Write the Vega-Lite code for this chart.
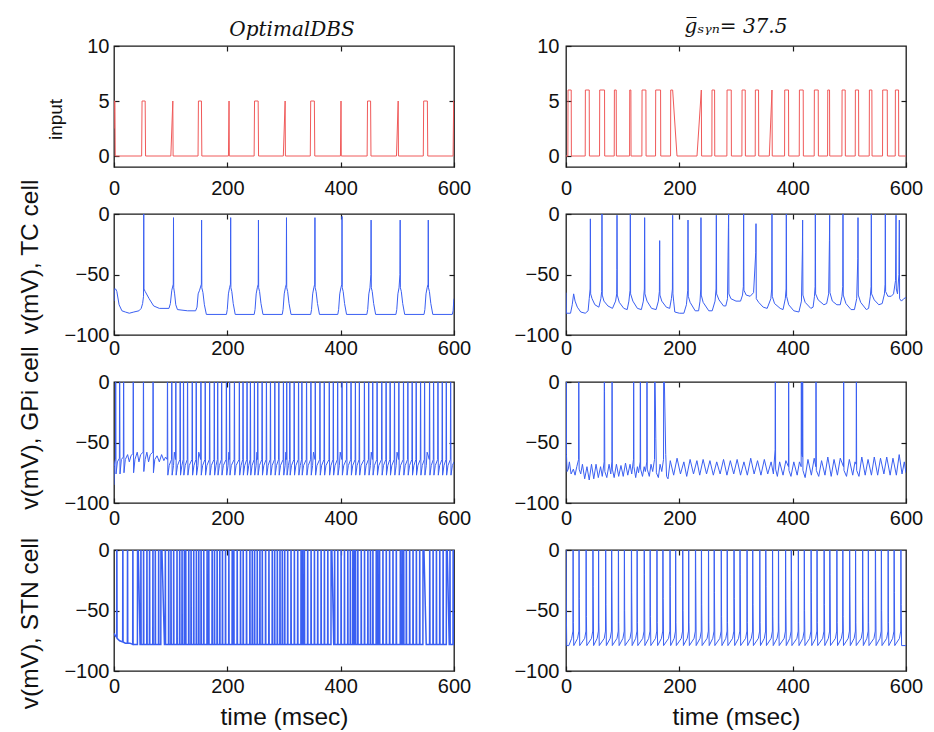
{
"$schema":"https://vega.github.io/schema/vega-lite/v6.json",
"background":"white",
"padding":{"left":16,"top":16,"right":5,"bottom":5},
"bounds":"flush",
"columns":2,
"spacing":{"row":47,"column":112},
"config":{
"view":{"stroke":"#1a1a1a","strokeWidth":1.3},
"axis":{"domain":false,"grid":false,"labelFont":"Liberation Sans","labelFontSize":20,"labelColor":"#111","labelFlush":false,"labelOverlap":false,"tickColor":"#1a1a1a","tickSize":-5,"tickWidth":1.2,"titleFont":"Liberation Sans","titleFontWeight":"normal","titleColor":"#111","titleFontSize":24.5},
"axisY":{"labelPadding":10},
"title":{"font":"DejaVu Serif","fontStyle":"italic","fontWeight":"normal","fontSize":20,"color":"#111","anchor":"middle","baseline":"alphabetic"}
},
"datasets":{
"inL":[{"t":0,"v":2.5},{"t":0.4,"v":5},{"t":1.6,"v":5},{"t":2.2,"v":0},{"t":48.8,"v":0},{"t":49.5,"v":5},{"t":55,"v":5},{"t":55.7,"v":0},{"t":100.3,"v":0},{"t":103.8,"v":5},{"t":104.3,"v":0},{"t":148.3,"v":0},{"t":149,"v":5},{"t":154.3,"v":5},{"t":155,"v":0},{"t":202,"v":0},{"t":203,"v":5},{"t":203.5,"v":0},{"t":247.3,"v":0},{"t":248,"v":5},{"t":254.4,"v":5},{"t":255.1,"v":0},{"t":298.8,"v":0},{"t":302,"v":5},{"t":302.5,"v":0},{"t":346.4,"v":0},{"t":347.1,"v":5},{"t":353.6,"v":5},{"t":354.3,"v":0},{"t":399.6,"v":0},{"t":400.6,"v":5},{"t":401.1,"v":0},{"t":446.7,"v":0},{"t":447.4,"v":5},{"t":452.8,"v":5},{"t":453.5,"v":0},{"t":498.5,"v":0},{"t":501.5,"v":5},{"t":502,"v":0},{"t":545.8,"v":0},{"t":546.5,"v":5},{"t":553,"v":5},{"t":553.7,"v":0},{"t":598.4,"v":0},{"t":599.4,"v":5},{"t":600,"v":5}],
"inR":[{"t":0,"v":0},{"t":3.3,"v":0},{"t":3.6,"v":6},{"t":9.2,"v":6},{"t":9.5,"v":0},{"t":33.9,"v":0},{"t":34.2,"v":6},{"t":41,"v":6},{"t":41.3,"v":0},{"t":59.2,"v":0},{"t":59.5,"v":6},{"t":68,"v":6},{"t":68.3,"v":0},{"t":85.1,"v":0},{"t":85.4,"v":6},{"t":88.6,"v":6},{"t":88.9,"v":0},{"t":112.2,"v":0},{"t":112.5,"v":6},{"t":114.5,"v":6},{"t":114.8,"v":0},{"t":133.9,"v":0},{"t":134.2,"v":6},{"t":141,"v":6},{"t":141.3,"v":0},{"t":158,"v":0},{"t":158.3,"v":6},{"t":166.9,"v":6},{"t":167.2,"v":0},{"t":184.5,"v":0},{"t":184.8,"v":6},{"t":188.2,"v":6},{"t":195.9,"v":0},{"t":231.2,"v":0},{"t":238.8,"v":6},{"t":239.3,"v":0},{"t":257.4,"v":0},{"t":257.7,"v":6},{"t":262.2,"v":6},{"t":262.5,"v":0},{"t":283.9,"v":0},{"t":284.2,"v":6},{"t":291.6,"v":6},{"t":291.9,"v":0},{"t":310.4,"v":0},{"t":310.7,"v":6},{"t":316.3,"v":6},{"t":316.6,"v":0},{"t":333.9,"v":0},{"t":334.2,"v":6},{"t":339.8,"v":6},{"t":340.1,"v":0},{"t":358.8,"v":0},{"t":363.5,"v":6},{"t":364,"v":0},{"t":385.7,"v":0},{"t":386,"v":6},{"t":392.7,"v":6},{"t":393,"v":0},{"t":411.6,"v":0},{"t":411.9,"v":6},{"t":418.6,"v":6},{"t":418.9,"v":0},{"t":438,"v":0},{"t":438.3,"v":6},{"t":445.1,"v":6},{"t":445.4,"v":0},{"t":461.6,"v":0},{"t":461.9,"v":6},{"t":465.1,"v":6},{"t":465.4,"v":0},{"t":486.9,"v":0},{"t":487.2,"v":6},{"t":492.7,"v":6},{"t":493,"v":0},{"t":510.4,"v":0},{"t":510.7,"v":6},{"t":516.3,"v":6},{"t":516.6,"v":0},{"t":535.1,"v":0},{"t":535.4,"v":6},{"t":539.8,"v":6},{"t":540.1,"v":0},{"t":558.6,"v":0},{"t":558.9,"v":6},{"t":566.9,"v":6},{"t":567.2,"v":0},{"t":581,"v":0},{"t":581.3,"v":6},{"t":586.9,"v":6},{"t":587.2,"v":0},{"t":600,"v":0}],
"tcL":[{"t":0,"v":-72},{"t":0.4,"v":-62},{"t":3,"v":-62},{"t":5,"v":-64},{"t":9,"v":-75},{"t":14,"v":-80},{"t":20,"v":-81},{"t":27,"v":-82},{"t":35,"v":-81},{"t":44,"v":-80},{"t":48,"v":-78},{"t":50.5,"v":-74},{"t":52.1,"v":-68},{"t":52.5,"v":0},{"t":52.9,"v":-62},{"t":55,"v":-64},{"t":62,"v":-70},{"t":70,"v":-76},{"t":80,"v":-78},{"t":97,"v":-78},{"t":99.5,"v":-74},{"t":102,"v":-63},{"t":104.6,"v":-58},{"t":105,"v":-3},{"t":105.4,"v":-61},{"t":107,"v":-66},{"t":109,"v":-75},{"t":112,"v":-79},{"t":130,"v":-80},{"t":144,"v":-80},{"t":146.5,"v":-77},{"t":148.5,"v":-66},{"t":151,"v":-63},{"t":154.2,"v":-58},{"t":154.6,"v":-5},{"t":155,"v":-61},{"t":157,"v":-65},{"t":159.5,"v":-75},{"t":163,"v":-83},
{"t":198.4,"v":-83},{"t":199.9,"v":-79},{"t":201.9,"v":-66},{"t":203.9,"v":-61},{"t":205.5,"v":-58},{"t":205.9,"v":-3},{"t":206.3,"v":-61},{"t":207.9,"v":-64},{"t":210.4,"v":-74},{"t":213.9,"v":-83},
{"t":247.4,"v":-83},{"t":248.9,"v":-79},{"t":250.9,"v":-66},{"t":252.9,"v":-61},{"t":254.5,"v":-58},{"t":254.9,"v":-5},{"t":255.3,"v":-61},{"t":256.9,"v":-64},{"t":259.4,"v":-74},{"t":262.9,"v":-83},
{"t":296.9,"v":-83},{"t":298.4,"v":-79},{"t":300.4,"v":-66},{"t":302.4,"v":-61},{"t":304,"v":-58},{"t":304.4,"v":-3},{"t":304.8,"v":-61},{"t":306.4,"v":-64},{"t":308.9,"v":-74},{"t":312.4,"v":-83},
{"t":347.1,"v":-83},{"t":348.6,"v":-79},{"t":350.6,"v":-66},{"t":352.6,"v":-61},{"t":354.2,"v":-58},{"t":354.6,"v":-3},{"t":355,"v":-61},{"t":356.6,"v":-64},{"t":359.1,"v":-74},{"t":362.6,"v":-83},
{"t":394.9,"v":-83},{"t":396.4,"v":-79},{"t":398.4,"v":-66},{"t":400.4,"v":-61},{"t":402,"v":-58},{"t":402.4,"v":-2},{"t":402.8,"v":-61},{"t":404.4,"v":-64},{"t":406.9,"v":-74},{"t":410.4,"v":-83},
{"t":446.2,"v":-83},{"t":447.7,"v":-79},{"t":449.7,"v":-66},{"t":451.7,"v":-61},{"t":453.3,"v":-50},{"t":453.7,"v":-5},{"t":454.1,"v":-61},{"t":455.7,"v":-64},{"t":458.2,"v":-74},{"t":461.7,"v":-83},
{"t":497.5,"v":-83},{"t":499,"v":-79},{"t":501,"v":-66},{"t":503,"v":-61},{"t":504.6,"v":-50},{"t":505,"v":-5},{"t":505.4,"v":-61},{"t":507,"v":-64},{"t":509.5,"v":-74},{"t":513,"v":-83},
{"t":547.1,"v":-83},{"t":548.6,"v":-79},{"t":550.6,"v":-66},{"t":552.6,"v":-61},{"t":554.2,"v":-58},{"t":554.6,"v":-5},{"t":555,"v":-61},{"t":556.6,"v":-64},{"t":559.1,"v":-74},{"t":562.6,"v":-83},
{"t":597,"v":-83},{"t":598.5,"v":-80},{"t":599.5,"v":-72},{"t":600,"v":-70}],
"tcR":[{"t":0,"v":-65},{"t":0.6,"v":-82},{"t":8,"v":-82},{"t":11,"v":-75},{"t":13.5,"v":-66},{"t":16,"v":-72},{"t":20,"v":-77},{"t":26,"v":-81},{"t":34,"v":-82},{"t":39,"v":-80},{"t":41,"v":-70},{"t":42.5,"v":-62},{"t":42.8,"v":-39},{"t":43,"v":-4},{"t":43.5,"v":-66},{"t":46,"v":-70},{"t":51,"v":-75},{"t":58,"v":-77},{"t":61.5,"v":-70},{"t":63,"v":-64},{"t":63.3,"v":-28},{"t":63.5,"v":0},{"t":64,"v":-67},{"t":67,"v":-72},{"t":74,"v":-76},{"t":82,"v":-78},{"t":87.5,"v":-72},{"t":89.5,"v":-66},{"t":89.8,"v":-46},{"t":90,"v":-1},{"t":90.5,"v":-67},{"t":94,"v":-73},{"t":102,"v":-78},{"t":108,"v":-79},{"t":111,"v":-72},{"t":113,"v":-63},{"t":113.5,"v":0},{"t":114,"v":-66},{"t":118,"v":-72},{"t":126,"v":-78},{"t":133,"v":-79},{"t":136.5,"v":-72},{"t":138.3,"v":-62},{"t":138.8,"v":-3},{"t":139.3,"v":-66},{"t":143,"v":-72},{"t":151,"v":-78},{"t":159,"v":-79},{"t":163,"v":-72},{"t":164.8,"v":-64},{"t":165.3,"v":-22},{"t":165.8,"v":-67},{"t":169,"v":-72},{"t":177,"v":-77},{"t":183,"v":-78},{"t":186,"v":-70},{"t":187.8,"v":-62},{"t":188.2,"v":-1},{"t":188.7,"v":-66},{"t":190,"v":-72},{"t":192,"v":-81},{"t":200,"v":-82},{"t":208,"v":-82},{"t":212.5,"v":-75},{"t":214.8,"v":-63},{"t":215.3,"v":-5},{"t":215.8,"v":-68},{"t":219,"v":-73},{"t":228,"v":-80},{"t":234,"v":-80},{"t":236.5,"v":-72},{"t":237.8,"v":-62},{"t":238.2,"v":-3},{"t":238.7,"v":-67},{"t":242,"v":-73},{"t":252,"v":-80},{"t":258,"v":-80},{"t":263,"v":-72},{"t":264.8,"v":-62},{"t":265.3,"v":-1},{"t":265.8,"v":-66},{"t":270,"v":-71},{"t":278,"v":-76},{"t":282,"v":-76},{"t":285,"v":-70},{"t":286.6,"v":-11},{"t":287,"v":0},{"t":287.5,"v":-66},{"t":291,"v":-70},{"t":300,"v":-72},{"t":308,"v":-72},{"t":311.5,"v":-67},{"t":313,"v":-60},{"t":313.5,"v":0},{"t":314,"v":-63},{"t":318,"v":-67},{"t":325,"v":-68},{"t":331,"v":-65},{"t":334.8,"v":-32},{"t":335.3,"v":-8},{"t":335.8,"v":-70},{"t":340,"v":-73},{"t":348,"v":-77},{"t":355,"v":-78},{"t":361.5,"v":-70},{"t":363,"v":-62},{"t":363.5,"v":0},{"t":364,"v":-68},{"t":368,"v":-74},{"t":378,"v":-78},{"t":383,"v":-79},{"t":387,"v":-70},{"t":388.4,"v":-62},{"t":388.8,"v":0},{"t":389.3,"v":-68},{"t":393,"v":-75},{"t":402,"v":-80},{"t":411,"v":-81},{"t":415.5,"v":-72},{"t":417.2,"v":-29},{"t":417.6,"v":-5},{"t":418.1,"v":-67},{"t":422,"v":-73},{"t":432,"v":-78},{"t":436,"v":-77},{"t":438.5,"v":-68},{"t":439.6,"v":-60},{"t":440,"v":0},{"t":440.5,"v":-66},{"t":445,"v":-71},{"t":455,"v":-75},{"t":460,"v":-74},{"t":463.5,"v":-66},{"t":464.9,"v":-22},{"t":465.3,"v":-1},{"t":465.8,"v":-65},{"t":470,"v":-72},{"t":478,"v":-75},{"t":484,"v":-75},{"t":487,"v":-68},{"t":488.4,"v":-60},{"t":488.8,"v":0},{"t":489.3,"v":-67},{"t":494,"v":-74},{"t":503,"v":-79},{"t":509,"v":-79},{"t":513,"v":-70},{"t":514.9,"v":-37},{"t":515.3,"v":-3},{"t":515.8,"v":-67},{"t":520,"v":-73},{"t":530,"v":-79},{"t":534,"v":-78},{"t":537,"v":-68},{"t":538.4,"v":-60},{"t":538.8,"v":0},{"t":539.3,"v":-66},{"t":544,"v":-71},{"t":552,"v":-75},{"t":558,"v":-74},{"t":562,"v":-66},{"t":563.1,"v":-58},{"t":563.5,"v":0},{"t":564,"v":-64},{"t":568,"v":-68},{"t":574,"v":-68},{"t":578,"v":-66},{"t":581.5,"v":-55},{"t":582.4,"v":-1},{"t":582.9,"v":-62},{"t":585,"v":-66},{"t":587.5,"v":-50},{"t":588.2,"v":-5},{"t":588.7,"v":-70},{"t":592,"v":-72},{"t":596,"v":-70},{"t":600,"v":-69}],
"gpiL":[{"t":0,"v":-85},{"t":0.5,"v":-70},{"t":1.5,"v":-66},{"t":2.6,"v":-64},{"t":3,"v":30},{"t":3.6,"v":-76},{"t":6,"v":-66},{"t":9.5,"v":-63},{"t":10,"v":30},{"t":10.6,"v":-76},{"t":13,"v":-64},{"t":16.5,"v":-62},{"t":17,"v":30},{"t":17.6,"v":-75},{"t":20,"v":-64},{"t":24,"v":-60},{"t":27,"v":-66},{"t":30,"v":-61},{"t":33.5,"v":-59},{"t":34,"v":30},{"t":34.6,"v":-75},{"t":37,"v":-64},{"t":41,"v":-58},{"t":44,"v":-66},{"t":47,"v":-60},{"t":51.5,"v":-58},{"t":52,"v":30},{"t":52.6,"v":-74},{"t":55,"v":-64},{"t":58,"v":-58},{"t":61,"v":-66},{"t":64,"v":-60},{"t":68.5,"v":-58},{"t":69,"v":30},{"t":69.6,"v":-75},{"t":72,"v":-64},{"t":76,"v":-61},{"t":80,"v":-66},{"t":84,"v":-60},{"t":88,"v":-65},{"t":91,"v":-62},
{"t":93.9,"v":-64},{"t":94.4,"v":30},{"t":95,"v":-77},{"t":97.4,"v":-69},
{"t":101.5,"v":-64},{"t":102,"v":30},{"t":102.6,"v":-77},{"t":105,"v":-69},{"t":106.5,"v":-58},
{"t":108.6,"v":-64},{"t":109.1,"v":30},{"t":109.7,"v":-77},{"t":112.1,"v":-69},
{"t":116.3,"v":-64},{"t":116.8,"v":30},{"t":117.4,"v":-77},{"t":119.8,"v":-69},
{"t":122.2,"v":-64},{"t":122.7,"v":30},{"t":123.3,"v":-77},{"t":125.7,"v":-69},
{"t":129.3,"v":-64},{"t":129.8,"v":30},{"t":130.4,"v":-77},{"t":132.8,"v":-69},
{"t":137.6,"v":-64},{"t":138.1,"v":30},{"t":138.7,"v":-77},{"t":141.1,"v":-69},
{"t":144.6,"v":-64},{"t":145.1,"v":30},{"t":145.7,"v":-77},{"t":148.1,"v":-69},{"t":149.6,"v":-58},
{"t":152.9,"v":-64},{"t":153.4,"v":30},{"t":154,"v":-77},{"t":156.4,"v":-69},
{"t":160.5,"v":-64},{"t":161,"v":30},{"t":161.6,"v":-77},{"t":164,"v":-69},
{"t":168.3,"v":-64},{"t":168.8,"v":30},{"t":169.4,"v":-77},{"t":171.8,"v":-69},
{"t":176.5,"v":-64},{"t":177,"v":30},{"t":177.6,"v":-77},{"t":180,"v":-69},
{"t":182.5,"v":-64},{"t":183,"v":30},{"t":183.6,"v":-77},{"t":186,"v":-69},
{"t":189.5,"v":-64},{"t":190,"v":30},{"t":190.6,"v":-77},{"t":193,"v":-69},
{"t":197.8,"v":-64},{"t":198.3,"v":30},{"t":198.9,"v":-77},{"t":201.3,"v":-69},{"t":202.8,"v":-58},
{"t":203.6,"v":-64},{"t":204.1,"v":30},{"t":204.7,"v":-77},{"t":207.1,"v":-69},
{"t":212,"v":-64},{"t":212.5,"v":30},{"t":213.1,"v":-77},{"t":215.5,"v":-69},
{"t":220.7,"v":-64},{"t":221.2,"v":30},{"t":221.8,"v":-77},{"t":224.2,"v":-69},
{"t":227.2,"v":-64},{"t":227.7,"v":30},{"t":228.3,"v":-77},{"t":230.7,"v":-69},
{"t":234.3,"v":-64},{"t":234.8,"v":30},{"t":235.4,"v":-77},{"t":237.8,"v":-69},
{"t":240.2,"v":-64},{"t":240.7,"v":30},{"t":241.3,"v":-77},{"t":243.7,"v":-69},
{"t":247.3,"v":-64},{"t":247.8,"v":30},{"t":248.4,"v":-77},{"t":250.8,"v":-69},{"t":252.3,"v":-58},
{"t":253.2,"v":-64},{"t":253.7,"v":30},{"t":254.3,"v":-77},{"t":256.7,"v":-69},
{"t":260.9,"v":-64},{"t":261.4,"v":30},{"t":262,"v":-77},{"t":264.4,"v":-69},
{"t":268.5,"v":-64},{"t":269,"v":30},{"t":269.6,"v":-77},{"t":272,"v":-69},
{"t":275.6,"v":-64},{"t":276.1,"v":30},{"t":276.7,"v":-77},{"t":279.1,"v":-69},
{"t":283.3,"v":-64},{"t":283.8,"v":30},{"t":284.4,"v":-77},{"t":286.8,"v":-69},
{"t":290.4,"v":-64},{"t":290.9,"v":30},{"t":291.5,"v":-77},{"t":293.9,"v":-69},
{"t":298.5,"v":-64},{"t":299,"v":30},{"t":299.6,"v":-77},{"t":302,"v":-69},{"t":303.3,"v":-58},
{"t":304.3,"v":-64},{"t":304.8,"v":30},{"t":305.4,"v":-77},{"t":307.8,"v":-69},
{"t":309.8,"v":-64},{"t":310.3,"v":30},{"t":310.9,"v":-77},{"t":313.3,"v":-69},
{"t":317.5,"v":-64},{"t":318,"v":30},{"t":318.6,"v":-77},{"t":321,"v":-69},
{"t":325.2,"v":-64},{"t":325.7,"v":30},{"t":326.3,"v":-77},{"t":328.7,"v":-69},
{"t":331.1,"v":-64},{"t":331.6,"v":30},{"t":332.2,"v":-77},{"t":334.6,"v":-69},
{"t":339.3,"v":-64},{"t":339.8,"v":30},{"t":340.4,"v":-77},{"t":342.8,"v":-69},
{"t":347,"v":-64},{"t":347.5,"v":30},{"t":348.1,"v":-77},{"t":350.5,"v":-69},{"t":352,"v":-58},
{"t":354.7,"v":-64},{"t":355.2,"v":30},{"t":355.8,"v":-77},{"t":358.2,"v":-69},
{"t":362.9,"v":-64},{"t":363.4,"v":30},{"t":364,"v":-77},{"t":366.4,"v":-69},
{"t":370.6,"v":-64},{"t":371.1,"v":30},{"t":371.7,"v":-77},{"t":374.1,"v":-69},
{"t":379.4,"v":-64},{"t":379.9,"v":30},{"t":380.5,"v":-77},{"t":382.9,"v":-69},
{"t":386.5,"v":-64},{"t":387,"v":30},{"t":387.6,"v":-77},{"t":390,"v":-69},
{"t":394.2,"v":-64},{"t":394.7,"v":30},{"t":395.3,"v":-77},{"t":397.7,"v":-69},{"t":399.2,"v":-58},
{"t":401.9,"v":-64},{"t":402.4,"v":30},{"t":403,"v":-77},{"t":405.4,"v":-69},
{"t":410.1,"v":-64},{"t":410.6,"v":30},{"t":411.2,"v":-77},{"t":413.6,"v":-69},
{"t":417.8,"v":-64},{"t":418.3,"v":30},{"t":418.9,"v":-77},{"t":421.3,"v":-69},
{"t":425.5,"v":-64},{"t":426,"v":30},{"t":426.6,"v":-77},{"t":429,"v":-69},
{"t":432.5,"v":-64},{"t":433,"v":30},{"t":433.6,"v":-77},{"t":436,"v":-69},
{"t":441.4,"v":-64},{"t":441.9,"v":30},{"t":442.5,"v":-77},{"t":444.9,"v":-69},
{"t":449,"v":-64},{"t":449.5,"v":30},{"t":450.1,"v":-77},{"t":452.5,"v":-69},{"t":454,"v":-58},
{"t":456.1,"v":-64},{"t":456.6,"v":30},{"t":457.2,"v":-77},{"t":459.6,"v":-69},
{"t":463.8,"v":-64},{"t":464.3,"v":30},{"t":464.9,"v":-77},{"t":467.3,"v":-69},
{"t":472.1,"v":-64},{"t":472.6,"v":30},{"t":473.2,"v":-77},{"t":475.6,"v":-69},
{"t":479.7,"v":-64},{"t":480.2,"v":30},{"t":480.8,"v":-77},{"t":483.2,"v":-69},
{"t":486.8,"v":-64},{"t":487.3,"v":30},{"t":487.9,"v":-77},{"t":490.3,"v":-69},
{"t":494.5,"v":-64},{"t":495,"v":30},{"t":495.6,"v":-77},{"t":498,"v":-69},{"t":499.5,"v":-58},
{"t":502.2,"v":-64},{"t":502.7,"v":30},{"t":503.3,"v":-77},{"t":505.7,"v":-69},
{"t":510.4,"v":-64},{"t":510.9,"v":30},{"t":511.5,"v":-77},{"t":513.9,"v":-69},
{"t":518.1,"v":-64},{"t":518.6,"v":30},{"t":519.2,"v":-77},{"t":521.6,"v":-69},
{"t":525.7,"v":-64},{"t":526.2,"v":30},{"t":526.8,"v":-77},{"t":529.2,"v":-69},
{"t":532.8,"v":-64},{"t":533.3,"v":30},{"t":533.9,"v":-77},{"t":536.3,"v":-69},
{"t":540.5,"v":-64},{"t":541,"v":30},{"t":541.6,"v":-77},{"t":544,"v":-69},
{"t":547.6,"v":-64},{"t":548.1,"v":30},{"t":548.7,"v":-77},{"t":551.1,"v":-69},{"t":552.6,"v":-58},
{"t":556.4,"v":-64},{"t":556.9,"v":30},{"t":557.5,"v":-77},{"t":559.9,"v":-69},
{"t":563.5,"v":-64},{"t":564,"v":30},{"t":564.6,"v":-77},{"t":567,"v":-69},
{"t":571.2,"v":-64},{"t":571.7,"v":30},{"t":572.3,"v":-77},{"t":574.7,"v":-69},
{"t":578.8,"v":-64},{"t":579.3,"v":30},{"t":579.9,"v":-77},{"t":582.3,"v":-69},
{"t":585.9,"v":-64},{"t":586.4,"v":30},{"t":587,"v":-77},{"t":589.4,"v":-69},
{"t":593.6,"v":-64},{"t":594.1,"v":30},{"t":594.7,"v":-77},{"t":597.1,"v":-69},{"t":600,"v":-66}],
"gpiR":[{"t":0,"v":-53},{"t":0.3,"v":30},{"t":0.8,"v":-60},{"t":2,"v":-74},{"t":4,"v":-72},{"t":6,"v":-66},{"t":9,"v":-76},{"t":13,"v":-72},{"t":16,"v":-77},{"t":19,"v":-70},{"t":22.2,"v":-64},{"t":22.5,"v":30},{"t":23.2,"v":-72},{"t":26,"v":-76},{"t":29,"v":-68},{"t":33,"v":-80},{"t":37,"v":-70},{"t":41,"v":-81},{"t":45,"v":-68},{"t":49,"v":-80},{"t":53,"v":-68},{"t":57,"v":-79},{"t":61,"v":-70},{"t":64,"v":-78},{"t":67.3,"v":-66},{"t":67.6,"v":30},{"t":68,"v":-8},{"t":68.5,"v":-74},{"t":72,"v":-79},{"t":76,"v":-68},{"t":79,"v":-76},{"t":81,"v":-66},{"t":81.3,"v":30},{"t":81.8,"v":-72},{"t":85,"v":-79},{"t":89,"v":-68},{"t":93,"v":-78},{"t":97,"v":-69},{"t":101,"v":-78},{"t":105,"v":-67},{"t":109,"v":-77},{"t":113,"v":-68},{"t":116,"v":-76},{"t":119.1,"v":-64},{"t":119.4,"v":30},{"t":119.9,"v":-70},{"t":123,"v":-79},{"t":126,"v":-70},{"t":128,"v":-75},{"t":130.9,"v":-66},{"t":131.2,"v":30},{"t":131.7,"v":-72},{"t":135,"v":-78},{"t":138,"v":-70},{"t":140,"v":-74},{"t":142.6,"v":-66},{"t":142.9,"v":30},{"t":143.4,"v":-72},{"t":147,"v":-78},{"t":150,"v":-68},{"t":153,"v":-74},{"t":156.2,"v":-64},{"t":156.5,"v":30},{"t":158.5,"v":-47},{"t":159.5,"v":-75},{"t":163,"v":-79},{"t":166,"v":-68},{"t":169,"v":-74},{"t":172.1,"v":-64},{"t":172.4,"v":30},{"t":176,"v":-60},{"t":177.5,"v":-78},{"t":180,"v":-80},{"t":184,"v":-65},{"t":190,"v":-77},{"t":196,"v":-63},{"t":202,"v":-76},{"t":208,"v":-66},{"t":213,"v":-78},{"t":219,"v":-64},{"t":225,"v":-76},{"t":231,"v":-65},{"t":236,"v":-77},{"t":242,"v":-64},{"t":248,"v":-76},{"t":254,"v":-65},{"t":260,"v":-77},{"t":266,"v":-66},{"t":272,"v":-76},{"t":278,"v":-64},{"t":284,"v":-77},{"t":290,"v":-65},{"t":296,"v":-76},{"t":302,"v":-64},{"t":308,"v":-77},{"t":314,"v":-66},{"t":320,"v":-77},{"t":326,"v":-63},{"t":332,"v":-76},{"t":338,"v":-65},{"t":344,"v":-77},{"t":350,"v":-64},{"t":356,"v":-76},{"t":362,"v":-66},{"t":366,"v":-76},{"t":369,"v":-56},{"t":369.4,"v":30},{"t":369.9,"v":-72},{"t":373,"v":-78},{"t":377,"v":-66},{"t":383,"v":-77},{"t":388,"v":-65},{"t":392.6,"v":-70},{"t":392.9,"v":30},{"t":393.4,"v":-73},{"t":397,"v":-78},{"t":402,"v":-66},{"t":408,"v":-77},{"t":412,"v":-66},{"t":415,"v":-70},{"t":415.3,"v":30},{"t":415.8,"v":-60},{"t":417.3,"v":-62},{"t":417.6,"v":30},{"t":418.1,"v":-73},{"t":422,"v":-79},{"t":427,"v":-64},{"t":433,"v":-77},{"t":438,"v":-63},{"t":440.9,"v":-70},{"t":441.2,"v":30},{"t":441.7,"v":-73},{"t":446,"v":-78},{"t":451,"v":-65},{"t":457,"v":-77},{"t":462,"v":-62},{"t":468,"v":-78},{"t":473,"v":-64},{"t":479,"v":-77},{"t":484,"v":-63},{"t":489.7,"v":-70},{"t":490,"v":30},{"t":490.5,"v":-73},{"t":495,"v":-78},{"t":500,"v":-64},{"t":506,"v":-77},{"t":510,"v":-66},{"t":512.1,"v":-68},{"t":512.4,"v":30},{"t":512.9,"v":-73},{"t":517,"v":-78},{"t":522,"v":-62},{"t":528,"v":-77},{"t":533,"v":-64},{"t":539,"v":-77},{"t":544,"v":-62},{"t":550,"v":-77},{"t":555,"v":-63},{"t":561,"v":-76},{"t":566,"v":-62},{"t":572,"v":-77},{"t":577,"v":-63},{"t":583,"v":-77},{"t":588,"v":-60},{"t":593,"v":-76},{"t":597,"v":-66},{"t":600,"v":-75}],
"stnL":[{"t":0,"v":-69},{"t":2.5,"v":-71},{"t":4.7,"v":-72},{"t":5,"v":30},{"t":5.4,"v":-73},{"t":10,"v":-75},{"t":15.3,"v":-76},{"t":15.6,"v":30},{"t":16,"v":-76},{"t":20,"v":-77},{"t":23.6,"v":-77},{"t":23.9,"v":30},{"t":24.3,"v":-77},{"t":28,"v":-77},{"t":33,"v":-78},{"t":33.3,"v":30},{"t":33.7,"v":-78},{"t":41.3,"v":-78},{"t":41.6,"v":30},{"t":46,"v":-78},
{"t":47.2,"v":-78},{"t":47.5,"v":30},{"t":47.9,"v":-78},{"t":51.9,"v":-78},{"t":52.2,"v":30},{"t":52.6,"v":-78},{"t":57.8,"v":-78},{"t":58.1,"v":30},{"t":58.5,"v":-78},{"t":62.5,"v":-78},{"t":62.8,"v":30},{"t":63.2,"v":-78},{"t":68.4,"v":-78},{"t":68.7,"v":30},{"t":69.1,"v":-78},{"t":72.6,"v":-78},{"t":72.9,"v":30},{"t":73.3,"v":-78},{"t":78.5,"v":-78},{"t":78.8,"v":30},{"t":79.2,"v":-78},{"t":82.6,"v":-78},{"t":82.9,"v":30},{"t":89,"v":-78},{"t":90.3,"v":-78},{"t":90.6,"v":30},{"t":91,"v":-78},{"t":96.2,"v":-78},{"t":96.5,"v":30},{"t":96.9,"v":-78},{"t":100.3,"v":-78},{"t":100.6,"v":30},{"t":101,"v":-78},{"t":105,"v":-78},{"t":105.3,"v":30},{"t":105.7,"v":-78},{"t":110.9,"v":-78},{"t":111.2,"v":30},{"t":111.6,"v":-78},{"t":115.6,"v":-78},{"t":115.9,"v":30},{"t":116.3,"v":-78},{"t":119.8,"v":-78},{"t":120.1,"v":30},{"t":120.5,"v":-78},{"t":123.9,"v":-78},{"t":124.2,"v":30},{"t":124.6,"v":-78},{"t":126.3,"v":-78},{"t":126.6,"v":30},{"t":127,"v":-78},{"t":131.6,"v":-78},{"t":131.9,"v":30},{"t":132.3,"v":-78},{"t":135.7,"v":-78},{"t":136,"v":30},{"t":136.4,"v":-78},{"t":140.4,"v":-78},{"t":140.7,"v":30},{"t":141.1,"v":-78},{"t":145.1,"v":-78},{"t":145.4,"v":30},{"t":145.8,"v":-78},{"t":149.3,"v":-78},{"t":149.6,"v":30},{"t":150,"v":-78},{"t":153.4,"v":-78},{"t":153.7,"v":30},{"t":154.1,"v":-78},{"t":158.1,"v":-78},{"t":158.4,"v":30},{"t":158.8,"v":-78},{"t":164,"v":-78},{"t":164.3,"v":30},{"t":164.7,"v":-78},{"t":167,"v":-78},{"t":167.3,"v":30},{"t":167.7,"v":-78},{"t":172.9,"v":-78},{"t":173.2,"v":30},{"t":173.6,"v":-78},{"t":177,"v":-78},{"t":177.3,"v":30},{"t":177.7,"v":-78},{"t":181.7,"v":-78},{"t":182,"v":30},{"t":182.4,"v":-78},{"t":186.4,"v":-78},{"t":186.7,"v":30},{"t":187.1,"v":-78},{"t":191.1,"v":-78},{"t":191.4,"v":30},{"t":191.8,"v":-78},{"t":196.5,"v":-78},{"t":196.8,"v":30},{"t":197.2,"v":-78},{"t":202.4,"v":-78},{"t":202.7,"v":30},{"t":203.1,"v":-78},{"t":208.3,"v":-78},{"t":208.6,"v":30},{"t":209,"v":-78},{"t":211.2,"v":-78},{"t":211.5,"v":30},{"t":211.9,"v":-78},{"t":217.1,"v":-78},{"t":217.4,"v":30},{"t":217.8,"v":-78},{"t":223,"v":-78},{"t":223.3,"v":30},{"t":223.7,"v":-78},{"t":227.7,"v":-78},{"t":228,"v":30},{"t":228.4,"v":-78},{"t":233.6,"v":-78},{"t":233.9,"v":30},{"t":234.3,"v":-78},{"t":239.5,"v":-78},{"t":239.8,"v":30},{"t":240.2,"v":-78},{"t":243.7,"v":-78},{"t":244,"v":30},{"t":244.4,"v":-78},{"t":247.8,"v":-78},{"t":248.1,"v":30},{"t":248.5,"v":-78},{"t":252.5,"v":-78},{"t":252.8,"v":30},{"t":253.2,"v":-78},{"t":257.2,"v":-78},{"t":257.5,"v":30},{"t":257.9,"v":-78},{"t":261.4,"v":-78},{"t":261.7,"v":30},{"t":262.1,"v":-78},{"t":267.2,"v":-78},{"t":267.5,"v":30},{"t":267.9,"v":-78},{"t":273.1,"v":-78},{"t":273.4,"v":30},{"t":273.8,"v":-78},{"t":279,"v":-78},{"t":279.3,"v":30},{"t":279.7,"v":-78},{"t":283.2,"v":-78},{"t":283.5,"v":30},{"t":283.9,"v":-78},{"t":287.9,"v":-78},{"t":288.2,"v":30},{"t":288.6,"v":-78},{"t":292.6,"v":-78},{"t":292.9,"v":30},{"t":293.3,"v":-78},{"t":296.7,"v":-78},{"t":297,"v":30},{"t":297.4,"v":-78},{"t":300.9,"v":-78},{"t":301.2,"v":30},{"t":301.6,"v":-78},{"t":306.2,"v":-78},{"t":306.5,"v":30},{"t":306.9,"v":-78},{"t":312.1,"v":-78},{"t":312.4,"v":30},{"t":312.8,"v":-78},{"t":318,"v":-78},{"t":318.3,"v":30},{"t":318.7,"v":-78},{"t":323.9,"v":-78},{"t":324.2,"v":30},{"t":324.6,"v":-78},{"t":329.8,"v":-78},{"t":330.1,"v":30},{"t":330.5,"v":-78},{"t":332.7,"v":-78},{"t":333,"v":30},{"t":333.4,"v":-78},{"t":335.7,"v":-78},{"t":336,"v":30},{"t":336.4,"v":-78},{"t":341.5,"v":-78},{"t":341.8,"v":30},{"t":342.2,"v":-78},{"t":347.5,"v":-78},{"t":347.8,"v":30},{"t":348.2,"v":-78},{"t":353.4,"v":-78},{"t":353.7,"v":30},{"t":354.1,"v":-78},{"t":359.2,"v":-78},{"t":359.5,"v":30},{"t":359.9,"v":-78},{"t":365.2,"v":-78},{"t":365.5,"v":30},{"t":365.9,"v":-78},{"t":371,"v":-78},{"t":371.3,"v":30},{"t":371.7,"v":-78},{"t":377,"v":-78},{"t":377.3,"v":30},{"t":377.7,"v":-78},{"t":382.9,"v":-78},{"t":383.2,"v":30},{"t":387.8,"v":-78},{"t":389,"v":-78},{"t":389.3,"v":30},{"t":389.7,"v":-78},{"t":394.6,"v":-78},{"t":394.9,"v":30},{"t":395.3,"v":-78},{"t":400.5,"v":-78},{"t":400.8,"v":30},{"t":401.2,"v":-78},{"t":406.4,"v":-78},{"t":406.7,"v":30},{"t":407.1,"v":-78},{"t":412.3,"v":-78},{"t":412.6,"v":30},{"t":413,"v":-78},{"t":416.8,"v":-78},{"t":417.1,"v":30},{"t":417.5,"v":-78},{"t":421.2,"v":-78},{"t":421.5,"v":30},{"t":421.9,"v":-78},{"t":424.1,"v":-78},{"t":424.4,"v":30},{"t":424.8,"v":-78},{"t":425.9,"v":-78},{"t":426.2,"v":30},{"t":426.6,"v":-78},{"t":430,"v":-78},{"t":430.3,"v":30},{"t":430.7,"v":-78},{"t":436,"v":-78},{"t":436.3,"v":30},{"t":436.7,"v":-78},{"t":441.8,"v":-78},{"t":442.1,"v":30},{"t":442.5,"v":-78},{"t":447.7,"v":-78},{"t":448,"v":30},{"t":448.4,"v":-78},{"t":452.2,"v":-78},{"t":452.5,"v":30},{"t":452.9,"v":-78},{"t":456.6,"v":-78},{"t":456.9,"v":30},{"t":457.3,"v":-78},{"t":462.5,"v":-78},{"t":462.8,"v":30},{"t":463.2,"v":-78},{"t":465.4,"v":-78},{"t":465.7,"v":30},{"t":466.1,"v":-78},{"t":468.4,"v":-78},{"t":468.7,"v":30},{"t":469.1,"v":-78},{"t":474.3,"v":-78},{"t":474.6,"v":30},{"t":475,"v":-78},{"t":480.2,"v":-78},{"t":480.5,"v":30},{"t":480.9,"v":-78},{"t":486.1,"v":-78},{"t":486.4,"v":30},{"t":486.8,"v":-78},{"t":492,"v":-78},{"t":492.3,"v":30},{"t":492.7,"v":-78},{"t":497.9,"v":-78},{"t":498.2,"v":30},{"t":498.6,"v":-78},{"t":505,"v":-78},{"t":505.3,"v":30},{"t":505.7,"v":-78},{"t":508,"v":-78},{"t":508.3,"v":30},{"t":508.7,"v":-78},{"t":510.9,"v":-78},{"t":511.2,"v":30},{"t":511.6,"v":-78},{"t":515.6,"v":-78},{"t":515.9,"v":30},{"t":516.3,"v":-78},{"t":521.5,"v":-78},{"t":521.8,"v":30},{"t":522.2,"v":-78},{"t":527.4,"v":-78},{"t":527.7,"v":30},{"t":528.1,"v":-78},{"t":533.3,"v":-78},{"t":533.6,"v":30},{"t":534,"v":-78},{"t":539.2,"v":-78},{"t":539.5,"v":30},{"t":539.9,"v":-78},{"t":545.1,"v":-78},{"t":545.4,"v":30},{"t":551,"v":-78},{"t":556.9,"v":-78},{"t":557.2,"v":30},{"t":557.6,"v":-78},{"t":562.8,"v":-78},{"t":563.1,"v":30},{"t":563.5,"v":-78},{"t":568.7,"v":-78},{"t":569,"v":30},{"t":569.4,"v":-78},{"t":574.6,"v":-78},{"t":574.9,"v":30},{"t":575.3,"v":-78},{"t":580.5,"v":-78},{"t":580.8,"v":30},{"t":581.2,"v":-78},{"t":586.4,"v":-78},{"t":586.7,"v":30},{"t":591.6,"v":-78},{"t":592.6,"v":-78},{"t":592.9,"v":30},{"t":593.3,"v":-78},{"t":598.2,"v":-78},{"t":598.5,"v":30},{"t":598.9,"v":-78},{"t":600,"v":-78}],
"stnR":[{"t":0,"v":30},{"t":0.6,"v":-50},{"t":1.3,"v":-79},{"t":5,"v":-79},
{"t":10,"v":-73},{"t":12.2,"v":-67},{"t":12.5,"v":30},{"t":13,"v":-60},{"t":13.7,"v":-79},
{"t":20.5,"v":-73},{"t":22.7,"v":-67},{"t":23,"v":30},{"t":23.5,"v":-40},{"t":24.2,"v":-79},
{"t":33,"v":-73},{"t":35.2,"v":-67},{"t":35.5,"v":30},{"t":36,"v":-55},{"t":36.7,"v":-79},
{"t":45,"v":-73},{"t":47.2,"v":-67},{"t":47.5,"v":30},{"t":48,"v":-30},{"t":48.7,"v":-79},
{"t":55,"v":-73},{"t":57.2,"v":-67},{"t":57.5,"v":30},{"t":58,"v":-60},{"t":58.7,"v":-79},
{"t":67.5,"v":-73},{"t":69.7,"v":-67},{"t":70,"v":30},{"t":70.5,"v":-45},{"t":71.2,"v":-79},
{"t":78,"v":-73},{"t":80.2,"v":-67},{"t":80.5,"v":30},{"t":81,"v":-25},{"t":81.7,"v":-79},
{"t":90,"v":-73},{"t":92.2,"v":-67},{"t":92.5,"v":30},{"t":93,"v":-60},{"t":93.7,"v":-79},
{"t":100.5,"v":-73},{"t":102.7,"v":-67},{"t":103,"v":30},{"t":103.5,"v":-50},{"t":104.2,"v":-79},
{"t":113,"v":-73},{"t":115.2,"v":-67},{"t":115.5,"v":30},{"t":116,"v":-35},{"t":116.7,"v":-79},
{"t":123,"v":-73},{"t":125.2,"v":-67},{"t":125.5,"v":30},{"t":126,"v":-60},{"t":126.7,"v":-79},
{"t":135.5,"v":-73},{"t":137.7,"v":-67},{"t":138,"v":30},{"t":138.5,"v":-20},{"t":139.2,"v":-79},
{"t":146,"v":-73},{"t":148.2,"v":-67},{"t":148.5,"v":30},{"t":149,"v":-55},{"t":149.7,"v":-79},
{"t":158,"v":-73},{"t":160.2,"v":-67},{"t":160.5,"v":30},{"t":161,"v":-60},{"t":161.7,"v":-79},
{"t":168.5,"v":-73},{"t":170.7,"v":-67},{"t":171,"v":30},{"t":171.5,"v":-40},{"t":172.2,"v":-79},
{"t":181,"v":-73},{"t":183.2,"v":-67},{"t":183.5,"v":30},{"t":184,"v":-30},{"t":184.7,"v":-79},
{"t":191,"v":-73},{"t":193.2,"v":-67},{"t":193.5,"v":30},{"t":194,"v":-60},{"t":194.7,"v":-79},
{"t":203.5,"v":-73},{"t":205.7,"v":-67},{"t":206,"v":30},{"t":206.5,"v":-50},{"t":207.2,"v":-79},
{"t":214,"v":-73},{"t":216.2,"v":-67},{"t":216.5,"v":30},{"t":217,"v":-60},{"t":217.7,"v":-79},
{"t":226,"v":-73},{"t":228.2,"v":-67},{"t":228.5,"v":30},{"t":229,"v":-25},{"t":229.7,"v":-79},
{"t":236.5,"v":-73},{"t":238.7,"v":-67},{"t":239,"v":30},{"t":239.5,"v":-45},{"t":240.2,"v":-79},
{"t":249,"v":-73},{"t":251.2,"v":-67},{"t":251.5,"v":30},{"t":252,"v":-60},{"t":252.7,"v":-79},
{"t":259,"v":-73},{"t":261.2,"v":-67},{"t":261.5,"v":30},{"t":262,"v":-35},{"t":262.7,"v":-79},
{"t":271.5,"v":-73},{"t":273.7,"v":-67},{"t":274,"v":30},{"t":274.5,"v":-55},{"t":275.2,"v":-79},
{"t":282,"v":-73},{"t":284.2,"v":-67},{"t":284.5,"v":30},{"t":285,"v":-60},{"t":285.7,"v":-79},
{"t":294,"v":-73},{"t":296.2,"v":-67},{"t":296.5,"v":30},{"t":297,"v":-40},{"t":297.7,"v":-79},
{"t":304.5,"v":-73},{"t":306.7,"v":-67},{"t":307,"v":30},{"t":307.5,"v":-20},{"t":308.2,"v":-79},
{"t":317,"v":-73},{"t":319.2,"v":-67},{"t":319.5,"v":30},{"t":320,"v":-60},{"t":320.7,"v":-79},
{"t":327,"v":-73},{"t":329.2,"v":-67},{"t":329.5,"v":30},{"t":330,"v":-45},{"t":330.7,"v":-79},
{"t":339.5,"v":-73},{"t":341.7,"v":-67},{"t":342,"v":30},{"t":342.5,"v":-60},{"t":343.2,"v":-79},
{"t":350,"v":-73},{"t":352.2,"v":-67},{"t":352.5,"v":30},{"t":353,"v":-30},{"t":353.7,"v":-79},
{"t":362,"v":-73},{"t":364.2,"v":-67},{"t":364.5,"v":30},{"t":365,"v":-55},{"t":365.7,"v":-79},
{"t":372.5,"v":-73},{"t":374.7,"v":-67},{"t":375,"v":30},{"t":375.5,"v":-60},{"t":376.2,"v":-79},
{"t":385,"v":-73},{"t":387.2,"v":-67},{"t":387.5,"v":30},{"t":388,"v":-40},{"t":388.7,"v":-79},
{"t":395,"v":-73},{"t":397.2,"v":-67},{"t":397.5,"v":30},{"t":398,"v":-25},{"t":398.7,"v":-79},
{"t":407.5,"v":-73},{"t":409.7,"v":-67},{"t":410,"v":30},{"t":410.5,"v":-60},{"t":411.2,"v":-79},
{"t":418,"v":-73},{"t":420.2,"v":-67},{"t":420.5,"v":30},{"t":421,"v":-50},{"t":421.7,"v":-79},
{"t":430,"v":-73},{"t":432.2,"v":-67},{"t":432.5,"v":30},{"t":433,"v":-35},{"t":433.7,"v":-79},
{"t":440.5,"v":-73},{"t":442.7,"v":-67},{"t":443,"v":30},{"t":443.5,"v":-60},{"t":444.2,"v":-79},
{"t":453,"v":-73},{"t":455.2,"v":-67},{"t":455.5,"v":30},{"t":456,"v":-45},{"t":456.7,"v":-79},
{"t":463,"v":-73},{"t":465.2,"v":-67},{"t":465.5,"v":30},{"t":466,"v":-20},{"t":466.7,"v":-79},
{"t":475.5,"v":-73},{"t":477.7,"v":-67},{"t":478,"v":30},{"t":478.5,"v":-60},{"t":479.2,"v":-79},
{"t":486,"v":-73},{"t":488.2,"v":-67},{"t":488.5,"v":30},{"t":489,"v":-55},{"t":489.7,"v":-79},
{"t":498,"v":-73},{"t":500.2,"v":-67},{"t":500.5,"v":30},{"t":501,"v":-30},{"t":501.7,"v":-79},
{"t":508.5,"v":-73},{"t":510.7,"v":-67},{"t":511,"v":30},{"t":511.5,"v":-60},{"t":512.2,"v":-79},
{"t":521,"v":-73},{"t":523.2,"v":-67},{"t":523.5,"v":30},{"t":524,"v":-40},{"t":524.7,"v":-79},
{"t":531,"v":-73},{"t":533.2,"v":-67},{"t":533.5,"v":30},{"t":534,"v":-60},{"t":534.7,"v":-79},
{"t":543.5,"v":-73},{"t":545.7,"v":-67},{"t":546,"v":30},{"t":546.5,"v":-25},{"t":547.2,"v":-79},
{"t":554,"v":-73},{"t":556.2,"v":-67},{"t":556.5,"v":30},{"t":557,"v":-50},{"t":557.7,"v":-79},
{"t":566,"v":-73},{"t":568.2,"v":-67},{"t":568.5,"v":30},{"t":569,"v":-60},{"t":569.7,"v":-79},
{"t":576.5,"v":-73},{"t":578.7,"v":-67},{"t":579,"v":30},{"t":579.5,"v":-35},{"t":580.2,"v":-79},
{"t":588.5,"v":-73},{"t":590.7,"v":-67},{"t":591,"v":30},{"t":591.5,"v":-45},{"t":592.2,"v":-79},{"t":600,"v":-79}]
},
"concat":[
{"width":340,"height":121,"data":{"name":"inL"},
"title":{"text":"OptimalDBS","offset":-4,"dx":8},
"layer":[
{"mark":{"type":"line","color":"#f05a5a","strokeWidth":1,"clip":true},"encoding":{
"x":{"field":"t","type":"quantitative","scale":{"domain":[0,600],"nice":false},"axis":{"values":[0,200,400,600],"title":null,"labelPadding":16}},
"y":{"field":"v","type":"quantitative","scale":{"domain":[-1,10],"nice":false,"zero":false},"axis":{"values":[0,5,10],"title":"input","titleFontSize":19,"titleX":-49,"titleY":73,"titleAngle":270,"titleBaseline":"bottom"}}}},
{"mark":{"type":"point","opacity":0},"encoding":{
"x":{"datum":300,"type":"quantitative","axis":{"orient":"top","values":[200,400],"labels":false,"title":null}},
"y":{"datum":5,"type":"quantitative","axis":{"orient":"right","values":[5],"labels":false,"title":null}}}}
],
"resolve":{"axis":{"x":"independent","y":"independent"}}},
{"width":340,"height":121,"data":{"name":"inR"},
"title":{"text":"g\u0305\u209b\u1d67\u2099= 37.5","offset":-1},
"layer":[
{"mark":{"type":"line","color":"#f05a5a","strokeWidth":1,"clip":true},"encoding":{
"x":{"field":"t","type":"quantitative","scale":{"domain":[0,600],"nice":false},"axis":{"values":[0,200,400,600],"title":null,"labelPadding":16}},
"y":{"field":"v","type":"quantitative","scale":{"domain":[-1,10],"nice":false,"zero":false},"axis":{"values":[0,5,10],"title":null,"labelPadding":12}}}},
{"mark":{"type":"point","opacity":0},"encoding":{
"x":{"datum":300,"type":"quantitative","axis":{"orient":"top","values":[200,400],"labels":false,"title":null}},
"y":{"datum":5,"type":"quantitative","axis":{"orient":"right","values":[5],"labels":false,"title":null}}}}
],
"resolve":{"axis":{"x":"independent","y":"independent"}}},
{"width":340,"height":121,"data":{"name":"tcL"},
"layer":[
{"mark":{"type":"line","color":"#3a5ff2","strokeWidth":1,"clip":true},"encoding":{
"x":{"field":"t","type":"quantitative","scale":{"domain":[0,600],"nice":false},"axis":{"values":[0,200,400,600],"title":null,"labelPadding":8}},
"y":{"field":"v","type":"quantitative","scale":{"domain":[-100,0],"nice":false},"axis":{"values":[-100,-50,0],"title":"v(mV), TC cell","titleX":-72,"titleY":42.5,"titleAngle":270,"titleBaseline":"bottom"}}}},
{"mark":{"type":"point","opacity":0},"encoding":{
"x":{"datum":300,"type":"quantitative","axis":{"orient":"top","values":[200,400],"labels":false,"title":null}},
"y":{"datum":-50,"type":"quantitative","axis":{"orient":"right","values":[-50],"labels":false,"title":null}}}}
],
"resolve":{"axis":{"x":"independent","y":"independent"}}},
{"width":340,"height":121,"data":{"name":"tcR"},
"layer":[
{"mark":{"type":"line","color":"#3a5ff2","strokeWidth":1,"clip":true},"encoding":{
"x":{"field":"t","type":"quantitative","scale":{"domain":[0,600],"nice":false},"axis":{"values":[0,200,400,600],"title":null,"labelPadding":8}},
"y":{"field":"v","type":"quantitative","scale":{"domain":[-100,0],"nice":false},"axis":{"values":[-100,-50,0],"title":null,"labelPadding":12}}}},
{"mark":{"type":"point","opacity":0},"encoding":{
"x":{"datum":300,"type":"quantitative","axis":{"orient":"top","values":[200,400],"labels":false,"title":null}},
"y":{"datum":-50,"type":"quantitative","axis":{"orient":"right","values":[-50],"labels":false,"title":null}}}}
],
"resolve":{"axis":{"x":"independent","y":"independent"}}},
{"width":340,"height":121,"data":{"name":"gpiL"},
"layer":[
{"mark":{"type":"line","color":"#3a5ff2","strokeWidth":1,"clip":true},"encoding":{
"x":{"field":"t","type":"quantitative","scale":{"domain":[0,600],"nice":false},"axis":{"values":[0,200,400,600],"title":null,"labelPadding":10}},
"y":{"field":"v","type":"quantitative","scale":{"domain":[-100,0],"nice":false},"axis":{"values":[-100,-50,0],"title":"v(mV), GPi cell","titleX":-72,"titleY":45.5,"titleAngle":270,"titleBaseline":"bottom"}}}},
{"mark":{"type":"point","opacity":0},"encoding":{
"x":{"datum":300,"type":"quantitative","axis":{"orient":"top","values":[200,400],"labels":false,"title":null}},
"y":{"datum":-50,"type":"quantitative","axis":{"orient":"right","values":[-50],"labels":false,"title":null}}}}
],
"resolve":{"axis":{"x":"independent","y":"independent"}}},
{"width":340,"height":121,"data":{"name":"gpiR"},
"layer":[
{"mark":{"type":"line","color":"#3a5ff2","strokeWidth":1,"clip":true},"encoding":{
"x":{"field":"t","type":"quantitative","scale":{"domain":[0,600],"nice":false},"axis":{"values":[0,200,400,600],"title":null,"labelPadding":10}},
"y":{"field":"v","type":"quantitative","scale":{"domain":[-100,0],"nice":false},"axis":{"values":[-100,-50,0],"title":null,"labelPadding":12}}}},
{"mark":{"type":"point","opacity":0},"encoding":{
"x":{"datum":300,"type":"quantitative","axis":{"orient":"top","values":[200,400],"labels":false,"title":null}},
"y":{"datum":-50,"type":"quantitative","axis":{"orient":"right","values":[-50],"labels":false,"title":null}}}}
],
"resolve":{"axis":{"x":"independent","y":"independent"}}},
{"width":340,"height":121,"data":{"name":"stnL"},
"layer":[
{"mark":{"type":"line","color":"#3a5ff2","strokeWidth":1.5,"clip":true},"encoding":{
"x":{"field":"t","type":"quantitative","scale":{"domain":[0,600],"nice":false},"axis":{"values":[0,200,400,600],"title":"time (msec)","titleFontSize":24.5,"titleY":53,"titleBaseline":"alphabetic","labelPadding":10}},
"y":{"field":"v","type":"quantitative","scale":{"domain":[-100,0],"nice":false},"axis":{"values":[-100,-50,0],"title":"v(mV), STN cell","titleX":-72,"titleY":73,"titleAngle":270,"titleBaseline":"bottom"}}}},
{"mark":{"type":"point","opacity":0},"encoding":{
"x":{"datum":300,"type":"quantitative","axis":{"orient":"top","values":[200,400],"labels":false,"title":null}},
"y":{"datum":-50,"type":"quantitative","axis":{"orient":"right","values":[-50],"labels":false,"title":null}}}}
],
"resolve":{"axis":{"x":"independent","y":"independent"}}},
{"width":340,"height":121,"data":{"name":"stnR"},
"layer":[
{"mark":{"type":"line","color":"#3a5ff2","strokeWidth":1,"clip":true},"encoding":{
"x":{"field":"t","type":"quantitative","scale":{"domain":[0,600],"nice":false},"axis":{"values":[0,200,400,600],"title":"time (msec)","titleFontSize":24.5,"titleY":53,"titleBaseline":"alphabetic","labelPadding":10}},
"y":{"field":"v","type":"quantitative","scale":{"domain":[-100,0],"nice":false},"axis":{"values":[-100,-50,0],"title":null,"labelPadding":12}}}},
{"mark":{"type":"point","opacity":0},"encoding":{
"x":{"datum":300,"type":"quantitative","axis":{"orient":"top","values":[200,400],"labels":false,"title":null}},
"y":{"datum":-50,"type":"quantitative","axis":{"orient":"right","values":[-50],"labels":false,"title":null}}}}
],
"resolve":{"axis":{"x":"independent","y":"independent"}}}
]
}
